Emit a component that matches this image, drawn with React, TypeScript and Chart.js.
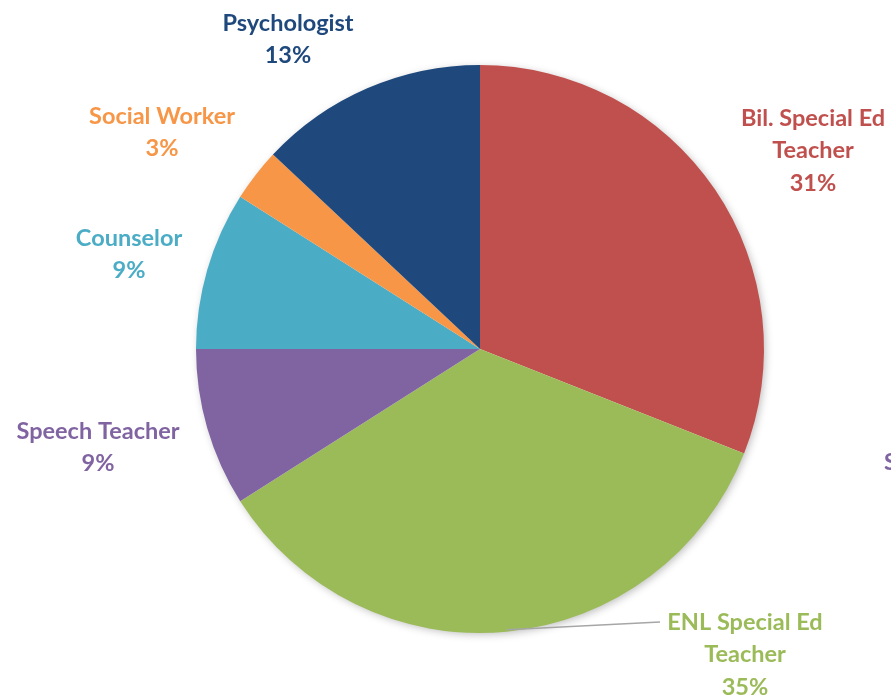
import React, { useEffect, useRef } from "react";
import { Chart, registerables } from "chart.js";

Chart.register(...registerables);

const categories = [
  "Bil. Special Ed Teacher",
  "ENL Special Ed Teacher",
  "Speech Teacher",
  "Counselor",
  "Social Worker",
  "Psychologist",
];
const values = [31, 35, 9, 9, 3, 13];
const colors = ["#C0504D", "#9BBB59", "#8064A2", "#4BACC6", "#F79646", "#1F497D"];

// label text lines per slice (name split into lines)
const labelLines = [
  ["Bil. Special Ed", "Teacher"],
  ["ENL Special Ed", "Teacher"],
  ["Speech Teacher"],
  ["Counselor"],
  ["Social Worker"],
  ["Psychologist"],
];

// label anchor (center of first line) positions in pixels
const labelAnchors = [
  { x: 813, y: 118 },
  { x: 745, y: 622 },
  { x: 98, y: 431 },
  { x: 129, y: 238 },
  { x: 162, y: 116 },
  { x: 288, y: 23 },
];

const FONT = "bold 23.5px Lato, 'Open Sans', sans-serif";
const LINE_H = 32.5;

const labelPlugin = {
  id: "outerLabels",
  beforeDatasetsDraw(chart: any) {
    const ctx = chart.ctx;
    ctx.save();
    ctx.shadowColor = "rgba(0,0,0,0.28)";
    ctx.shadowBlur = 8;
    ctx.shadowOffsetX = 2;
    ctx.shadowOffsetY = 2;
    const meta = chart.getDatasetMeta(0);
    const arc = meta.data[0] as any;
    ctx.fillStyle = "#ffffff";
    ctx.beginPath();
    ctx.arc(arc.x, arc.y, arc.outerRadius - 1, 0, Math.PI * 2);
    ctx.fill();
    ctx.restore();
  },
  afterDraw(chart: any) {
    const ctx = chart.ctx;
    const meta = chart.getDatasetMeta(0);
    const total = values.reduce((a, b) => a + b, 0);
    ctx.save();
    ctx.font = FONT;
    ctx.textAlign = "center";
    ctx.textBaseline = "middle";
    values.forEach((v, i) => {
      const a = labelAnchors[i];
      const lines = [...labelLines[i], Math.round((v / total) * 100) + "%"];
      ctx.fillStyle = colors[i];
      lines.forEach((ln, j) => ctx.fillText(ln, a.x, a.y + j * LINE_H));
    });
    // leader line for ENL label
    const arc = meta.data[1] as any;
    const mid = (arc.startAngle + arc.endAngle) / 2;
    const px = arc.x + Math.cos(mid) * arc.outerRadius;
    const py = arc.y + Math.sin(mid) * arc.outerRadius;
    ctx.strokeStyle = "#A6A6A6";
    ctx.lineWidth = 1.5;
    ctx.beginPath();
    ctx.moveTo(px, py - 2);
    ctx.lineTo(660, 622);
    ctx.stroke();
    // partial label at right edge (clipped)
    ctx.fillStyle = colors[2];
    ctx.textAlign = "left";
    ctx.fillText("Speech Teacher", 884, 462);
    ctx.restore();
  },
};

export default function App() {
  const ref = useRef<HTMLCanvasElement>(null);
  useEffect(() => {
    document.body.style.margin = "0";
    const chart = new Chart(ref.current!, {
      type: "pie",
      data: {
        labels: categories,
        datasets: [
          {
            data: values,
            backgroundColor: colors,
            borderWidth: 0,
          },
        ],
      },
      options: {
        responsive: false,
        animation: false,
        layout: { padding: { left: 196, right: 127, top: 65, bottom: 65 } },
        plugins: { legend: { display: false }, tooltip: { enabled: false } },
      },
      plugins: [labelPlugin],
    });
    return () => chart.destroy();
  }, []);
  return (
    <div style={{ width: 891, height: 698, background: "#fff" }}>
      <canvas ref={ref} width={891} height={698} style={{ width: 891, height: 698 }} />
    </div>
  );
}
